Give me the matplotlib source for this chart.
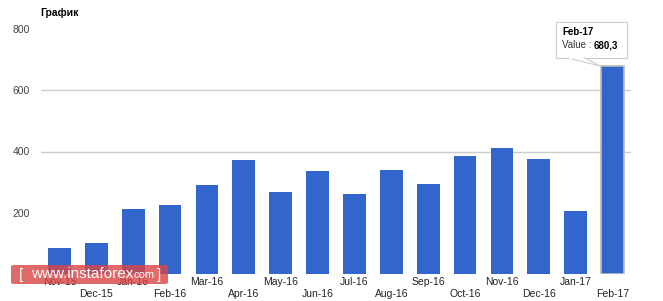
import matplotlib
matplotlib.use("Agg")
import matplotlib.pyplot as plt
from matplotlib.patches import Rectangle, Polygon, FancyBboxPatch

months = ["Nov-15", "Dec-15", "Jan-16", "Feb-16", "Mar-16", "Apr-16", "May-16", "Jun-16",
          "Jul-16", "Aug-16", "Sep-16", "Oct-16", "Nov-16", "Dec-16", "Jan-17", "Feb-17"]
values = [85, 101, 212, 225, 290, 372, 268, 336, 261, 339, 294, 385, 411, 375, 206, 680.3]
yticks = [200, 400, 600, 800]
grid_values = [400, 600]

W, H = 663, 301
plt.rcParams['font.family'] = ['Liberation Sans', 'DejaVu Sans']
fig = plt.figure(figsize=(W / 100, H / 100), dpi=100)
ax = fig.add_axes([41 / W, 1 - 274 / H, (631 - 41) / W, (274 - 29) / H])

x = list(range(len(values)))
ax.set_xlim(-0.5, len(values) - 0.5)
ax.set_ylim(0, 800)
for g in grid_values:
    ax.axhline(g, color="#cccccc", lw=1, zorder=0)

bars = ax.bar(x, values, width=0.62, color="#3366cc", zorder=2)
bars[-1].set_edgecolor("#bbbbbb")
bars[-1].set_linewidth(1.2)

for s in ax.spines.values():
    s.set_visible(False)

ax.set_yticks(yticks)
ax.set_yticklabels([str(v) for v in yticks])
ax.tick_params(axis="y", length=0, pad=8, labelsize=7.5, labelcolor="#444444")

ax.set_xticks(x[0::2])
ax.set_xticklabels(months[0::2])
ax.set_xticks(x[1::2], minor=True)
ax.set_xticklabels(months[1::2], minor=True)
ax.tick_params(axis="x", which="major", length=0, pad=2.5, labelsize=7.5, labelcolor="#222222")
ax.tick_params(axis="x", which="minor", length=0, pad=11, labelsize=7.5, labelcolor="#222222")

# Title
fig.text(40 / W, 1 - 13 / H, "График", fontsize=7.5, fontweight="bold", color="#000000",
         va="center", ha="left")

# Tooltip
tf = fig.transFigure
def fx(px): return px / W
def fy(py): return 1 - py / H
box = Rectangle((fx(556), fy(58)), (627 - 556) / W, (58 - 22) / H, transform=tf,
                facecolor="white", edgecolor="#cccccc", lw=0.8, zorder=10)
fig.add_artist(box)
tri = Polygon([(fx(568), fy(58)), (fx(600), fy(66)), (fx(585), fy(58))], closed=True,
              transform=tf, facecolor="white", edgecolor="#cccccc", lw=0.8, zorder=11)
fig.add_artist(tri)
fig.add_artist(Rectangle((fx(569), fy(58.8)), 15 / W, 1.6 / H, transform=tf,
                         facecolor="white", edgecolor="none", zorder=12))
fig.text(fx(562), fy(32), "Feb-17", fontsize=7, fontweight="bold", color="#000000",
         va="center", ha="left", zorder=13)
fig.text(fx(562), fy(45), "Value : ", fontsize=7, color="#333333",
         va="center", ha="left", zorder=13)
fig.text(fx(594), fy(45), "680,3", fontsize=7, fontweight="bold", color="#000000",
         va="center", ha="left", zorder=13)

# Watermark
wm = FancyBboxPatch((fx(11), fy(284)), (168 - 11) / W, (284 - 265) / H,
                    boxstyle="round,pad=0,rounding_size=0.005", transform=tf,
                    facecolor="#d94545", alpha=0.8, edgecolor="none", zorder=20)
fig.add_artist(wm)
fig.text(fx(19), fy(275), "[", fontsize=11, color="white", va="center", ha="left", zorder=21)
fig.text(fx(31), fy(274.5), "www.instaforex", fontsize=11, color="white", va="center", ha="left", zorder=21)
fig.text(fx(134), fy(275.5), "com", fontsize=8, color="white", va="center", ha="left", zorder=21)
fig.text(fx(157), fy(275), "]", fontsize=11, color="white", va="center", ha="left", zorder=21)

fig.savefig("out.png", dpi=100, facecolor="white")
